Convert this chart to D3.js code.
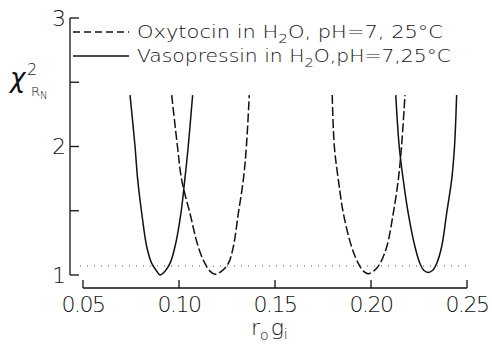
<!DOCTYPE html>
<html>
<head>
<meta charset="utf-8">
<script src="https://cdn.jsdelivr.net/npm/d3@7"></script>
<style>
  body { margin: 0; background: #fff; }
  svg { display: block; }
  text { font-family: "DejaVu Sans", "Liberation Sans", sans-serif; font-weight: 200; fill: #111; }
</style>
</head>
<body>
<div id="chart"></div>
<script>
// values (x = r_o g_i, y = reduced chi^2)
const oxyA_x = [0.0962, 0.0992, 0.1014, 0.1057, 0.1100, 0.1135, 0.1161, 0.1188, 0.1222, 0.1257, 0.1283, 0.1309, 0.1335, 0.1351, 0.1366];
const oxyA_y = [2.40, 2.00, 1.74, 1.48, 1.22, 1.09, 1.03, 1.005, 1.03, 1.09, 1.22, 1.48, 1.74, 2.00, 2.40];
const oxyB_x = [0.1798, 0.1809, 0.1830, 0.1856, 0.1899, 0.1934, 0.1960, 0.1986, 0.2021, 0.2047, 0.2082, 0.2116, 0.2142, 0.2159, 0.2177];
const oxyB_y = [2.40, 2.00, 1.74, 1.48, 1.22, 1.09, 1.03, 1.01, 1.04, 1.09, 1.22, 1.48, 1.74, 2.00, 2.40];
const vasoA_x = [0.0745, 0.0771, 0.0785, 0.0806, 0.0832, 0.0858, 0.0884, 0.0901, 0.0927, 0.0953, 0.0979, 0.1010, 0.1030, 0.1048, 0.1071];
const vasoA_y = [2.40, 2.00, 1.74, 1.48, 1.22, 1.09, 1.03, 1.00, 1.03, 1.09, 1.22, 1.48, 1.74, 2.00, 2.40];
const vasoB_x = [0.2129, 0.2147, 0.2168, 0.2194, 0.2229, 0.2255, 0.2276, 0.2298, 0.2320, 0.2342, 0.2368, 0.2394, 0.2420, 0.2435, 0.2446];
const vasoB_y = [2.40, 2.00, 1.74, 1.48, 1.22, 1.09, 1.035, 1.02, 1.035, 1.09, 1.22, 1.48, 1.74, 2.00, 2.40];
const refLevel = 1.07;

const xTicks = [0.05, 0.10, 0.15, 0.20, 0.25];
const xTickLabels = ["0.05", "0.10", "0.15", "0.20", "0.25"];
const yTicks = [1, 1.5, 2, 2.5, 3];
const yTickLabels = ["1", "", "2", "", "3"];
const legendNames = ["Oxytocin", "Vasopressin"];

const W = 492, H = 344;
const svg = d3.select('#chart').append('svg')
    .attr('width', W)
    .attr('height', H);

const x = d3.scaleLinear().domain([0.05, 0.25]).range([83, 467]);
const y = d3.scaleLinear().domain([1, 3]).range([275, 18]);
const yAxisX = 70;
const xAxisY = 288;

const ink = '#111';

// y axis (ticks point inward)
const yAxis = svg.append('g').attr('transform', `translate(${yAxisX},0)`);
yAxis.append('line')
    .attr('y1', y(3)).attr('y2', y(1))
    .attr('stroke', ink).attr('stroke-width', 1.3);
yAxis.selectAll('.ytick')
    .data(yTicks)
  .join('line')
    .attr('class', 'ytick')
    .attr('x1', 0).attr('x2', 9)
    .attr('y1', d => y(d)).attr('y2', d => y(d))
    .attr('stroke', ink).attr('stroke-width', 1.3);
yAxis.selectAll('.ylabel')
    .data(yTicks)
  .join('text')
    .attr('class', 'ylabel')
    .attr('x', -4)
    .attr('y', d => y(d))
    .attr('dy', '0.36em')
    .attr('text-anchor', 'end')
    .style('font-size', '22px')
    .text((d, i) => yTickLabels[i]);

// x axis (detached, ticks point up)
const xAxis = svg.append('g').attr('transform', `translate(0,${xAxisY})`);
xAxis.append('line')
    .attr('x1', x(0.05)).attr('x2', x(0.25))
    .attr('stroke', ink).attr('stroke-width', 1.3);
xAxis.selectAll('.xtick')
    .data(xTicks)
  .join('line')
    .attr('class', 'xtick')
    .attr('x1', d => x(d)).attr('x2', d => x(d))
    .attr('y1', 0).attr('y2', -8)
    .attr('stroke', ink).attr('stroke-width', 1.3);
xAxis.selectAll('.xlabel')
    .data(xTicks)
  .join('text')
    .attr('class', 'xlabel')
    .attr('x', d => x(d))
    .attr('y', 24)
    .attr('text-anchor', 'middle')
    .style('font-size', '22px')
    .style('letter-spacing', '-1.5px')
    .text((d, i) => xTickLabels[i]);

// dotted reference line
svg.append('line')
    .attr('x1', 80).attr('x2', x(0.25))
    .attr('y1', y(refLevel)).attr('y2', y(refLevel))
    .attr('stroke', '#555').attr('stroke-width', 1)
    .attr('stroke-dasharray', '1,6');

// curves
const line = d3.line()
    .x(d => x(d[0]))
    .y(d => y(d[1]))
    .curve(d3.curveCatmullRom.alpha(0.5));

const curves = [
  {xs: oxyA_x, ys: oxyA_y, dash: '9,3'},
  {xs: oxyB_x, ys: oxyB_y, dash: '9,3'},
  {xs: vasoA_x, ys: vasoA_y, dash: null},
  {xs: vasoB_x, ys: vasoB_y, dash: null}
];
svg.selectAll('.curve')
    .data(curves)
  .join('path')
    .attr('class', 'curve')
    .attr('fill', 'none')
    .attr('stroke', ink)
    .attr('stroke-width', 1.5)
    .attr('stroke-dasharray', d => d.dash)
    .attr('d', d => line(d.xs.map((v, i) => [v, d.ys[i]])));

// legend
const legend = svg.append('g');
const legendRows = [
  {name: legendNames[0], y: 32, dash: '7,4', tail: ', pH=7, 25°C', len: 306},
  {name: legendNames[1], y: 56, dash: null, tail: ',pH=7,25°C', len: 314}
];
legendRows.forEach(r => {
  legend.append('line')
      .attr('x1', 73).attr('x2', 129)
      .attr('y1', r.y).attr('y2', r.y)
      .attr('stroke', ink).attr('stroke-width', 1.4)
      .attr('stroke-dasharray', r.dash);
  const t = legend.append('text')
      .attr('x', 137)
      .attr('y', r.y + 6)
      .attr('textLength', r.len)
      .attr('lengthAdjust', 'spacingAndGlyphs')
      .style('font-size', '18px');
  t.append('tspan').text(`${r.name} in H`);
  t.append('tspan').attr('dy', 5).style('font-size', '13px').text('2');
  t.append('tspan').attr('dy', -5).text(`O${r.tail}`);
});

// y title: chi^2 sub R_N
const yt = svg.append('text')
    .attr('x', 10).attr('y', 87)
    .style('font-size', '26px');
yt.append('tspan').style('font-style', 'italic').text('χ');
svg.append('text').attr('x', 27).attr('y', 75).style('font-size', '16px').text('2');
const ys = svg.append('text').attr('x', 31).attr('y', 96).style('font-size', '13px');
ys.append('tspan').text('R');
ys.append('tspan').attr('dy', 3).style('font-size', '10px').text('N');

// x title: r_o g_i
const xt = svg.append('text')
    .attr('x', 251).attr('y', 335)
    .style('font-size', '22px');
xt.append('tspan').text('r');
xt.append('tspan').attr('dy', 5).style('font-size', '14px').text('o');
xt.append('tspan').attr('dy', -5).attr('dx', 2).text('g');
xt.append('tspan').attr('dy', 4).style('font-size', '14px').text('i');
</script>
</body>
</html>
